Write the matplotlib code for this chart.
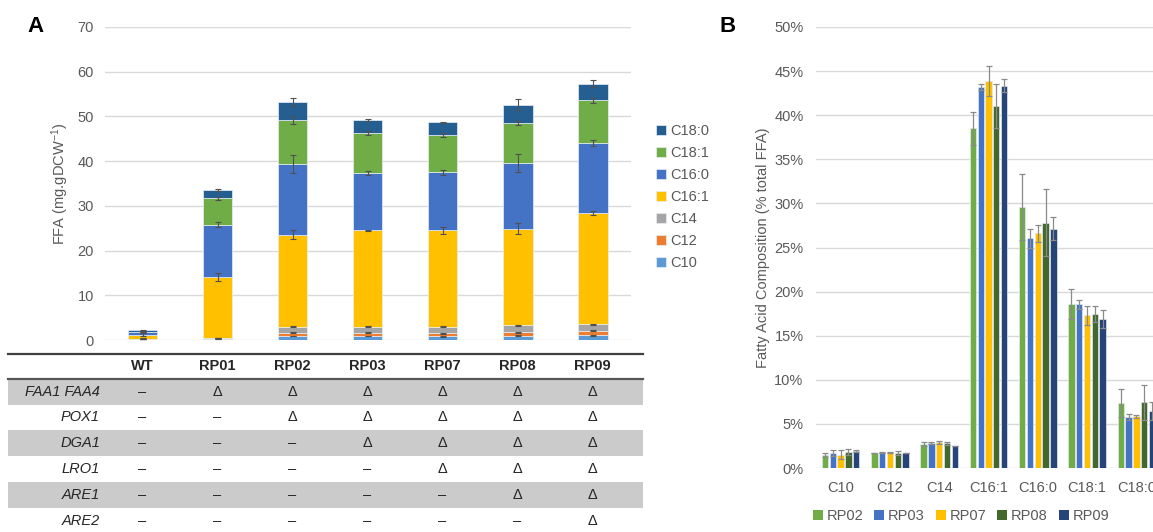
import matplotlib
matplotlib.use("Agg")
import matplotlib.pyplot as plt
from matplotlib.patches import Patch, Rectangle
from matplotlib.ticker import PercentFormatter, MultipleLocator

plt.rcParams['font.family'] = ['Liberation Sans', 'DejaVu Sans']
plt.rcParams['mathtext.fontset'] = 'custom'
plt.rcParams['mathtext.rm'] = 'Liberation Sans'
plt.rcParams['mathtext.default'] = 'regular'

# ---------------- data ----------------
strains = ['WT', 'RP01', 'RP02', 'RP03', 'RP07', 'RP08', 'RP09']
fatty_acids = ['C10', 'C12', 'C14', 'C16:1', 'C16:0', 'C18:1', 'C18:0']

# FFA titre per chain length (mg/gDCW), stacked from C10 upwards
c10 = [0.20, 0.25, 0.90, 0.90, 0.80, 0.95, 1.10]
c12 = [0.05, 0.05, 0.75, 0.75, 0.75, 0.75, 1.00]
c14 = [0.05, 0.10, 1.35, 1.35, 1.45, 1.60, 1.40]
c16_1 = [0.90, 13.60, 20.50, 21.50, 21.50, 21.60, 24.90]
c16_0 = [0.50, 11.80, 15.80, 12.90, 13.00, 14.60, 15.60]
c18_1 = [0.20, 5.90, 9.90, 8.90, 8.40, 9.10, 9.60]
c18_0 = [0.30, 1.80, 4.00, 2.90, 2.80, 4.00, 3.70]

# standard deviations, plotted at the top of each stacked segment
c10_sd = [0.05, 0.10, 0.10, 0.10, 0.10, 0.10, 0.10]
c12_sd = [0.05, 0.05, 0.15, 0.10, 0.10, 0.10, 0.05]
c14_sd = [0.05, 0.05, 0.10, 0.10, 0.10, 0.15, 0.10]
c16_1_sd = [0.40, 0.90, 1.00, 0.10, 0.80, 1.30, 0.40]
c16_0_sd = [0.10, 0.60, 2.00, 0.50, 0.50, 2.00, 0.70]
c18_1_sd = [0.10, 0.30, 0.80, 0.35, 0.45, 0.45, 0.55]
c18_0_sd = [0.10, 0.20, 0.90, 0.20, 0.10, 1.20, 0.75]

# gene deletions per strain
genes = ['FAA1 FAA4', 'POX1', 'DGA1', 'LRO1', 'ARE1', 'ARE2']
faa1_faa4_del = ['RP01', 'RP02', 'RP03', 'RP07', 'RP08', 'RP09']
pox1_del = ['RP02', 'RP03', 'RP07', 'RP08', 'RP09']
dga1_del = ['RP03', 'RP07', 'RP08', 'RP09']
lro1_del = ['RP07', 'RP08', 'RP09']
are1_del = ['RP08', 'RP09']
are2_del = ['RP09']

# fatty acid composition (% of total FFA)
comp_strains = ['RP02', 'RP03', 'RP07', 'RP08', 'RP09']
rp02 = [1.5, 1.7, 2.7, 38.5, 29.6, 18.6, 7.4]
rp03 = [1.7, 1.8, 2.8, 43.2, 26.05, 18.55, 5.75]
rp07 = [1.5, 1.8, 2.9, 43.9, 26.6, 17.3, 5.85]
rp08 = [1.8, 1.7, 2.8, 41.05, 27.8, 17.5, 7.45]
rp09 = [1.9, 1.7, 2.5, 43.35, 27.15, 16.9, 6.45]
rp02_sd = [0.2, 0.05, 0.25, 1.9, 3.7, 1.65, 1.6]
rp03_sd = [0.3, 0.05, 0.1, 0.35, 1.05, 0.5, 0.35]
rp07_sd = [0.5, 0.05, 0.2, 1.7, 1.0, 1.05, 0.2]
rp08_sd = [0.3, 0.2, 0.2, 2.45, 3.8, 0.9, 2.0]
rp09_sd = [0.1, 0.05, 0.05, 0.75, 1.35, 1.05, 1.0]

# ---------------- style ----------------
fa_colors = ['#5B9BD5', '#ED7D31', '#A5A5A5', '#FFC000', '#4472C4', '#70AD47', '#255E91']
strain_colors = ['#70AD47', '#4472C4', '#FFC000', '#43682B', '#264478']
text_gray = '#595959'
grid_gray = '#D9D9D9'

W, H = 1153, 532
fig = plt.figure(figsize=(W / 100, H / 100), dpi=100)


def style_axes(ax):
    for s in ax.spines.values():
        s.set_visible(False)
    ax.yaxis.grid(True, color=grid_gray, linewidth=1.0)
    ax.set_axisbelow(True)
    ax.tick_params(axis='both', length=0, colors=text_gray, labelsize=10.5)


# ---------------- panel A: stacked FFA titres ----------------
ax_a = fig.add_axes([105 / W, 1 - 340 / H, 525.5 / W, 313 / H])
style_axes(ax_a)
x = list(range(len(strains)))
segments = [c10, c12, c14, c16_1, c16_0, c18_1, c18_0]
segment_sd = [c10_sd, c12_sd, c14_sd, c16_1_sd, c16_0_sd, c18_1_sd, c18_0_sd]
bottom = [0.0] * len(strains)
for vals, sd, col, name in zip(segments, segment_sd, fa_colors, fatty_acids):
    ax_a.bar(x, vals, width=0.39, bottom=bottom, color=col, edgecolor='#E8EEF6',
             linewidth=0.5, label=name, zorder=2)
    tops = [b + v for b, v in zip(bottom, vals)]
    ax_a.errorbar(x, tops, yerr=sd, fmt='none', ecolor='#505050',
                  elinewidth=0.8, capsize=2.5, capthick=0.8, zorder=3)
    bottom = tops
ax_a.set_xlim(-0.5, 6.5)
ax_a.set_ylim(0, 70)
ax_a.yaxis.set_major_locator(MultipleLocator(10))
ax_a.set_xticks([])
ax_a.tick_params(axis='y', pad=8)
ax_a.set_ylabel('FFA (mg.gDCW$^{-1}$)', color=text_gray, fontsize=10.5, labelpad=5)

handles_a = [Patch(facecolor=c, edgecolor='#E8EEF6', linewidth=0.5) for c in fa_colors][::-1]
fig.legend(handles_a, fatty_acids[::-1], loc='upper left',
           bbox_to_anchor=(643 / W, 1 - 111 / H), frameon=False,
           handlelength=0.7, handleheight=0.7, handletextpad=0.25,
           labelspacing=0.55, fontsize=10.5, labelcolor=text_gray)

fig.text(35 / W, 1 - 27 / H, 'A', fontsize=16, fontweight='bold', ha='center', va='center')

# ---------------- genotype table under panel A ----------------
ax_t = fig.add_axes([8 / W, 0, 635 / W, 179 / H])
ax_t.set_xlim(-1.793, 6.673)
ax_t.set_ylim(-6.94, 0)
ax_t.axis('off')
xmin, xmax = ax_t.get_xlim()
deletions = [faa1_faa4_del, pox1_del, dga1_del, lro1_del, are1_del, are2_del]
for i, (gene, deleted) in enumerate(zip(genes, deletions)):
    y0 = -(2 + i)
    if i % 2 == 0:
        ax_t.add_patch(Rectangle((xmin, y0), xmax - xmin, 1, facecolor='#CBCBCB',
                                 edgecolor='none', zorder=0))
    ax_t.text(-0.567, y0 + 0.5, gene, ha='right', va='center', fontsize=10.5,
              fontstyle='italic', color='#262626')
    for j, s in enumerate(strains):
        mark = 'Δ' if s in deleted else '–'
        ax_t.text(j, y0 + 0.5, mark, ha='center', va='center', fontsize=10.5, color='#262626')
for j, s in enumerate(strains):
    ax_t.text(j, -0.5, s, ha='center', va='center', fontsize=10.5, fontweight='bold',
              color='#262626')
ax_t.plot([xmin, xmax], [-0.02, -0.02], color='#404040', linewidth=1.6, clip_on=False)
ax_t.plot([xmin, xmax], [-1, -1], color='#555555', linewidth=1.6, clip_on=False)

# ---------------- panel B: fatty acid composition ----------------
ax_b = fig.add_axes([816 / W, 1 - 468 / H, 345 / W, 441 / H])
style_axes(ax_b)
comp_vals = [rp02, rp03, rp07, rp08, rp09]
comp_sd = [rp02_sd, rp03_sd, rp07_sd, rp08_sd, rp09_sd]
step, bw = 0.158, 0.128
xb = list(range(len(fatty_acids)))
for k, (vals, sd, col, name) in enumerate(zip(comp_vals, comp_sd, strain_colors, comp_strains)):
    pos = [xi + (k - 2) * step for xi in xb]
    ax_b.bar(pos, vals, width=bw, color=col, edgecolor='#E4EAF3', linewidth=0.5,
             label=name, zorder=2)
    ax_b.errorbar(pos, vals, yerr=sd, fmt='none', ecolor='#8A8A8A', elinewidth=0.9,
                  capsize=2.2, capthick=0.9, zorder=3)
ax_b.set_xlim(-0.5, 6.5)
ax_b.set_ylim(0, 50)
ax_b.yaxis.set_major_locator(MultipleLocator(5))
ax_b.yaxis.set_major_formatter(PercentFormatter(xmax=100, decimals=0))
ax_b.set_xticks(xb)
ax_b.set_xticklabels(fatty_acids)
ax_b.tick_params(axis='y', pad=9)
ax_b.tick_params(axis='x', pad=9)
ax_b.set_ylabel('Fatty Acid Composition (% total FFA)', color=text_gray,
                fontsize=10.5, labelpad=3)

handles_b = [Patch(facecolor=c, edgecolor='none') for c in strain_colors]
fig.legend(handles_b, comp_strains, loc='center', bbox_to_anchor=(961 / W, 1 - 516 / H),
           ncol=5, frameon=False, handlelength=0.7, handleheight=0.7,
           handletextpad=0.25, columnspacing=0.75, fontsize=10.5, labelcolor=text_gray)

fig.text(728 / W, 1 - 27 / H, 'B', fontsize=16, fontweight='bold', ha='center', va='center')

fig.savefig('out.png', dpi=100, facecolor='white')
